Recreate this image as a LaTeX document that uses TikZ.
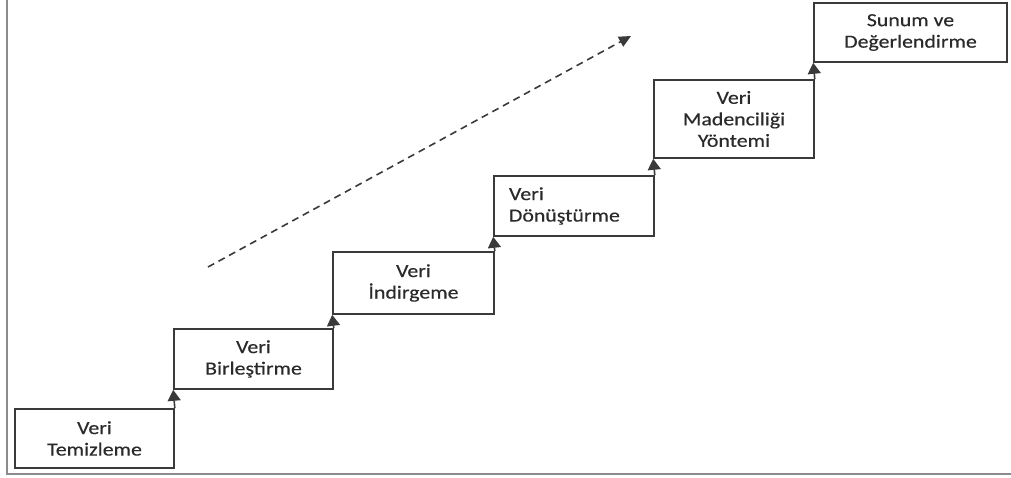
\documentclass[tikz,border=0pt]{standalone}
\usepackage{fontspec}
\setmainfont[FakeStretch=1.18,FakeBold=0.4]{Carlito}
\usetikzlibrary{arrows.meta}
\definecolor{boxline}{HTML}{3A3A3A}
\definecolor{boxtext}{HTML}{2A2A2A}
\definecolor{framegray}{HTML}{8C8C8C}
\begin{document}
\begin{tikzpicture}[x=1pt,y=-1pt,
  stepbox/.style={draw=boxline, line width=1.6pt, rectangle, inner sep=0pt,
    text=boxtext, align=center, font=\fontsize{18.5}{21.5}\selectfont},
  riser/.style={draw=boxline, line width=1.6pt,
    -{Triangle[width=13pt,length=11pt]}},
  trend/.style={draw=boxline, line width=1.6pt, dash pattern=on 7pt off 5pt,
    -{Triangle[width=11pt,length=12pt]}}]
  \useasboundingbox (0,0) rectangle (1011,477);
  % cropped outer frame
  \draw[framegray, line width=2.5pt] (7,0) -- (7,474) -- (1011,474);

  % staircase of process steps (centre, width, height)
  \node[stepbox, minimum width=159pt, minimum height=59pt] (b1) at (94.5,438.5) {Veri\\Temizleme};
  \node[stepbox, minimum width=159pt, minimum height=60pt] (b2) at (253.5,359) {Veri\\Birleştirme};
  \node[stepbox, minimum width=161pt, minimum height=62pt] (b3) at (413.5,283) {Veri\\İndirgeme};
  \node[stepbox, align=left, text width=130pt, inner xsep=15pt,
        minimum height=60pt] (b4) at (574,206) {Veri\\Dönüştürme};
  \node[stepbox, minimum width=160pt, minimum height=78pt] (b5) at (734,119) {Veri\\Madenciliği\\Yöntemi};
  \node[stepbox, minimum width=193pt, minimum height=59pt] (b6) at (910.5,32.5) {Sunum ve\\Değerlendirme};

  % risers between the steps
  \draw[riser] (b1.north east) -- (b2.south west);
  \draw[riser] (b2.north east) -- (b3.south west);
  \draw[riser] (b3.north east) -- (b4.south west);
  \draw[riser] (b4.north east) -- (b5.south west);
  \draw[riser] (b5.north east) -- (b6.south west);

  % overall upward trend
  \coordinate (t0) at (208,267);
  \coordinate (t1) at (631,36);
  \draw[trend] (t0) -- (t1);
\end{tikzpicture}
\end{document}
